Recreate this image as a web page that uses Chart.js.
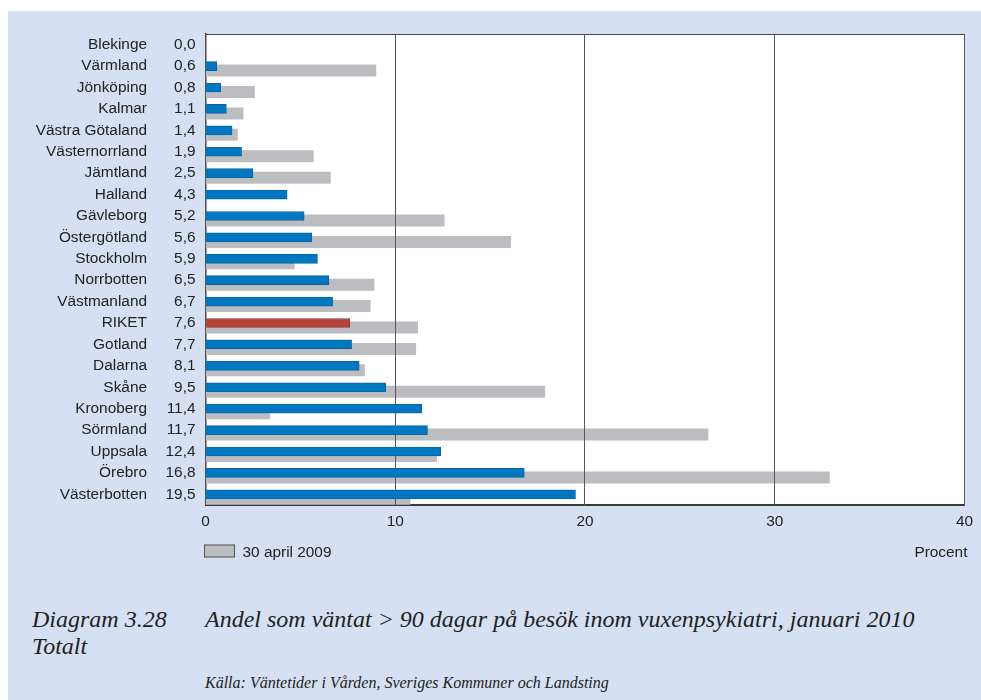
<!DOCTYPE html>
<html lang="sv">
<head>
<meta charset="utf-8">
<title>Andel som väntat &gt; 90 dagar på besök inom vuxenpsykiatri</title>
<script src="https://cdn.jsdelivr.net/npm/chart.js@4/dist/chart.umd.min.js"></script>
<style>
  html, body { margin: 0; padding: 0; background: #fff; }
  body { width: 981px; height: 700px; position: relative; overflow: hidden; }
  #panel { position: absolute; left: 8px; top: 11px; width: 973px; height: 689px; background: #d5e1f3; }
  #chartBox { position: absolute; left: 0; top: 0; width: 973px; height: 564px; }
  .cap { position: absolute; font-family: "Liberation Serif", "Times New Roman", serif; font-style: italic; color: #222; white-space: nowrap; }
  #capNo { left: 24px; top: 596px; font-size: 24px; line-height: 24px; }
  #capSub { left: 24px; top: 623px; font-size: 24px; line-height: 24px; }
  #capTitle { left: 197px; top: 596px; font-size: 24px; line-height: 24px; }
  #capSrc { left: 197px; top: 664px; font-size: 16px; line-height: 16px; }
</style>
</head>
<body>
<div id="panel">
  <div id="chartBox"><canvas id="chart"></canvas></div>
  <div class="cap" id="capNo">Diagram 3.28</div>
  <div class="cap" id="capSub">Totalt</div>
  <div class="cap" id="capTitle">Andel som väntat &gt; 90 dagar på besök inom vuxenpsykiatri, januari 2010</div>
  <div class="cap" id="capSrc">Källa: Väntetider i Vården, Sveriges Kommuner och Landsting</div>
</div>
<script>
// Landsting, sorted by share waiting > 90 days (January 2010)
const categories = ['Blekinge', 'Värmland', 'Jönköping', 'Kalmar', 'Västra Götaland', 'Västernorrland',
  'Jämtland', 'Halland', 'Gävleborg', 'Östergötland', 'Stockholm', 'Norrbotten', 'Västmanland',
  'RIKET', 'Gotland', 'Dalarna', 'Skåne', 'Kronoberg', 'Sörmland', 'Uppsala', 'Örebro', 'Västerbotten'];

// Share in percent, January 2010
const jan2010 = [0.0, 0.6, 0.8, 1.1, 1.4, 1.9, 2.5, 4.3, 5.2, 5.6, 5.9, 6.5, 6.7,
  7.6, 7.7, 8.1, 9.5, 11.4, 11.7, 12.4, 16.8, 19.5];

// Share in percent, 30 April 2009 (no figure for Blekinge and Halland)
const apr2009 = [null, 9.0, 2.6, 2.0, 1.7, 5.7, 6.6, null, 12.6, 16.1, 4.7, 8.9, 8.7,
  11.2, 11.1, 8.4, 17.9, 3.4, 26.5, 12.2, 32.9, 10.8];

// Value column printed next to the names
const valueLabels = jan2010.map(v => v.toFixed(1).replace('.', ','));

const xTicks = [0, 10, 20, 30, 40];

const BLUE = '#0077c1', BLUE_EDGE = '#0a65a3';
const RED = '#b7423a', RED_EDGE = '#9a3530';
const GREY = '#bcbdc0';
const GRID = '#555555';
const TEXT = '#222222';
const FONT = '"Liberation Sans", Arial, Helvetica, sans-serif';
const TICK_FONT = { family: FONT, size: 15.4 };

// White plot area, grid lines over the 2009 bars, top frame line, legend and unit label
const frame = {
  id: 'frame',
  beforeDraw(chart) {
    const { ctx, chartArea: a } = chart;
    ctx.save();
    ctx.fillStyle = '#ffffff';
    ctx.fillRect(a.left, a.top, a.right - a.left, a.bottom - a.top);
    ctx.restore();
  },
  afterDatasetDraw(chart, args) {
    if (args.index !== 2) return;
    const { ctx, chartArea: a, scales: { x } } = chart;
    ctx.save();
    ctx.strokeStyle = GRID;
    ctx.lineWidth = 1;
    x.ticks.forEach(t => {
      // same pixel snapping as the scale's own grid lines
      const px = Math.round(x.getPixelForValue(t.value) + 0.5) - 0.5;
      ctx.beginPath();
      ctx.moveTo(px, a.top);
      ctx.lineTo(px, a.bottom);
      ctx.stroke();
    });
    ctx.restore();
  },
  afterDraw(chart) {
    const { ctx, chartArea: a } = chart;
    ctx.save();
    ctx.strokeStyle = '#444';
    ctx.lineWidth = 1.2;
    ctx.beginPath();
    ctx.moveTo(a.left, a.top + 0.5);
    ctx.lineTo(a.right, a.top + 0.5);
    ctx.stroke();

    const ds = chart.data.datasets[2];
    const bx = a.left - 1.5, by = a.bottom + 39.5;
    ctx.fillStyle = ds.backgroundColor;
    ctx.fillRect(bx, by, 31, 13);
    ctx.strokeStyle = '#555';
    ctx.lineWidth = 1;
    ctx.strokeRect(bx + 0.5, by + 0.5, 30, 12);

    ctx.fillStyle = TEXT;
    ctx.font = '15.4px ' + FONT;
    ctx.textBaseline = 'alphabetic';
    ctx.textAlign = 'left';
    ctx.fillText(ds.label, a.left + 37, a.bottom + 52);
    ctx.textAlign = 'right';
    ctx.fillText('Procent', a.right + 3, a.bottom + 52);
    ctx.restore();
  }
};

// Category axes keep their fixed widths and add no extra space above/below the plot
const fixWidth = w => s => { s.width = w; s.paddingTop = 0; s.paddingBottom = 0; };

new Chart(document.getElementById('chart'), {
  type: 'bar',
  data: {
    labels: categories,
    datasets: [
      {
        // empty spacer group so the current bars sit on the category centre
        label: '',
        data: categories.map(() => null),
        stack: 'spacer',
        barThickness: 9
      },
      {
        label: 'Januari 2010',
        data: jan2010,
        stack: 'now',
        backgroundColor: categories.map(c => c === 'RIKET' ? RED : BLUE),
        borderColor: categories.map(c => c === 'RIKET' ? RED_EDGE : BLUE_EDGE),
        borderWidth: 1,
        borderSkipped: 'start',
        barThickness: 9
      },
      {
        label: '30 april 2009',
        data: apr2009,
        stack: 'before',
        backgroundColor: GREY,
        borderWidth: 0,
        categoryPercentage: 0.6306,
        barPercentage: 2.667
      }
    ]
  },
  options: {
    indexAxis: 'y',
    responsive: true,
    maintainAspectRatio: false,
    animation: false,
    layout: { padding: { left: 10, right: 16, top: 23, bottom: 40 } },
    plugins: {
      legend: { display: false },
      tooltip: { enabled: false }
    },
    scales: {
      x: {
        type: 'linear',
        position: 'bottom',
        min: 0,
        max: 40,
        afterBuildTicks: s => { s.ticks = xTicks.map(v => ({ value: v })); },
        afterFit: s => { s.height = 30; },
        ticks: { color: TEXT, font: TICK_FONT, padding: 8 },
        grid: { color: GRID, lineWidth: 1, drawTicks: false },
        border: { display: true, color: '#3a3a3a', width: 2 }
      },
      y: {
        type: 'category',
        position: 'left',
        weight: 2,
        offset: true,
        afterFit: fixWidth(148),
        ticks: { color: TEXT, font: TICK_FONT, padding: 19, autoSkip: false },
        grid: { display: false, drawTicks: false },
        border: { display: false }
      },
      yv: {
        type: 'category',
        labels: valueLabels,
        position: 'left',
        weight: 1,
        offset: true,
        afterFit: fixWidth(39.5),
        ticks: { color: TEXT, font: TICK_FONT, padding: 10, autoSkip: false },
        grid: { display: false, drawTicks: false },
        border: { display: true, color: '#333', width: 1.5 }
      }
    }
  },
  plugins: [frame]
});
</script>
</body>
</html>
